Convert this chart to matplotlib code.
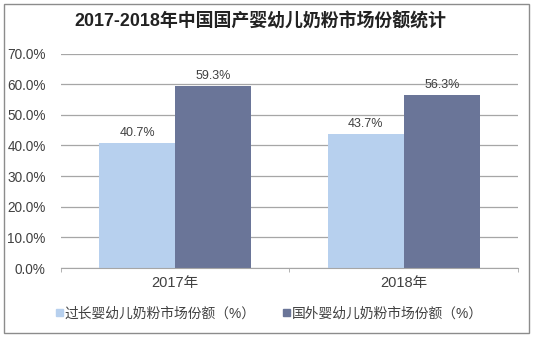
import numpy as np
import matplotlib.pyplot as plt
from matplotlib.patches import Rectangle
from matplotlib.ticker import FixedLocator

plt.rcParams['font.family'] = ['Liberation Sans', 'Noto Sans CJK SC', 'DejaVu Sans']

years = ['2017年', '2018年']
domestic = [40.7, 43.7]
foreign = [59.3, 56.3]
series_names = ['过长婴幼儿奶粉市场份额（%）', '国外婴幼儿奶粉市场份额（%）']
yticks = [0, 10, 20, 30, 40, 50, 60, 70]

c_light = '#B7D0EE'
c_dark = '#6A7598'
grid_c = '#A6A6A6'
txt_c = '#404040'

fig = plt.figure(figsize=(5.36, 3.37), dpi=100)
ax = fig.add_axes([0.1138, 0.2047, 0.8526, 0.6365])

x = np.arange(len(years))
w = 1 / 3
b1 = ax.bar(x - w / 2, domestic, w, color=c_light, zorder=2)
b2 = ax.bar(x + w / 2, foreign, w, color=c_dark, zorder=2)

for bars, vals in ((b1, domestic), (b2, foreign)):
    for r, v in zip(bars, vals):
        ax.text(r.get_x() + r.get_width() / 2, v + 1.5, f'{v:.1f}%',
                ha='center', va='bottom', fontsize=9, color=txt_c)

ax.set_xlim(-0.5, 1.5)
ax.set_ylim(0, 70)
ax.set_yticks(yticks)
ax.set_yticklabels([f'{t:.1f}%' for t in yticks], fontsize=9.8, color=txt_c)
ax.set_xticks(x)
ax.set_xticklabels(years, fontsize=10.5, color=txt_c)
ax.xaxis.set_minor_locator(FixedLocator([-0.5, 0.5, 1.5]))
ax.tick_params(axis='x', which='major', length=0, pad=6)
ax.tick_params(axis='x', which='minor', length=3, color=grid_c)
ax.tick_params(axis='y', length=0, pad=11)
ax.yaxis.grid(True, color=grid_c, linewidth=0.9, zorder=0)
ax.set_axisbelow(True)
for s in ('left', 'right', 'top'):
    ax.spines[s].set_visible(False)
ax.spines['bottom'].set_color(grid_c)

fig.text(0.485, 0.935, '2017-2018年中国国产婴幼儿奶粉市场份额统计',
         ha='center', va='center', fontsize=12.9, fontweight='bold', color='#222222')

# legend at the bottom
fig.legend([Rectangle((0, 0), 1, 1, color=c_light), Rectangle((0, 0), 1, 1, color=c_dark)],
           series_names, loc='center', bbox_to_anchor=(0.503, 0.07), ncol=2,
           frameon=False, fontsize=9.9, handlelength=0.5, handleheight=0.5,
           handletextpad=0.15, columnspacing=2.0, labelcolor=txt_c)

# outer frame
fig.add_artist(Rectangle((4 / 536, 4 / 337), 525 / 536, 329 / 337, transform=fig.transFigure,
                         fill=False, edgecolor='#8C8C8C', linewidth=1.0))

fig.savefig('out.png', dpi=100)
